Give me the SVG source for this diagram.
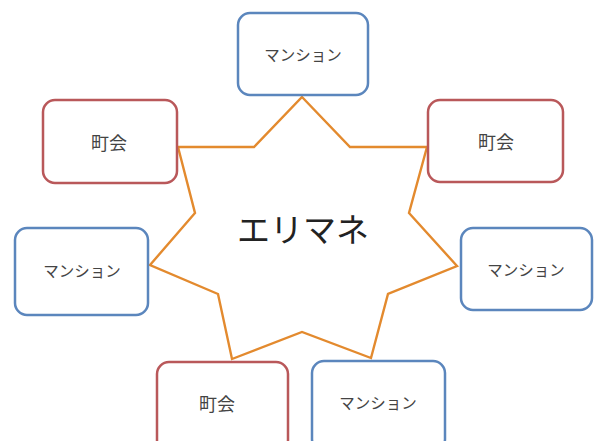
<svg xmlns="http://www.w3.org/2000/svg" width="594" height="441" viewBox="0 0 594 441">
<style>
.box{fill:#fff;stroke-width:2.5}
.red{stroke:#b9585a}
.blue{stroke:#5b86bd}
.lbl{font-family:"Noto Sans CJK JP",sans-serif;font-size:15.5px;fill:#444;text-anchor:middle;dominant-baseline:central}
.town{font-size:18px}
.star{fill:#fff;stroke:#e38a2e;stroke-width:2.4;stroke-linejoin:miter}
.title{font-family:"Noto Sans CJK JP",sans-serif;font-size:33px;fill:#222;text-anchor:middle;dominant-baseline:central}
</style>
<rect width="594" height="441" fill="#fff"/>
<g id="connectors">
<polygon class="star" points="302,97 350,147 427,147 409,213 457,266 388,294 371,358 302,332 232,359 218,294 150,265 195,213 178,147 254,147"/>
</g>
<g id="center"><text class="title" x="303" y="228">エリマネ</text></g>
<g id="n-top"><rect class="box blue" x="238" y="13" width="130" height="82" rx="12"/><text class="lbl" x="303" y="54">マンション</text></g>
<g id="n-left-town"><rect class="box red" x="43" y="100" width="134" height="83" rx="12"/><text class="lbl town" x="109" y="142">町会</text></g>
<g id="n-right-town"><rect class="box red" x="428" y="100" width="135" height="82" rx="12"/><text class="lbl town" x="496" y="141">町会</text></g>
<g id="n-left-mansion"><rect class="box blue" x="15" y="228" width="133" height="87" rx="12"/><text class="lbl" x="82" y="270">マンション</text></g>
<g id="n-right-mansion"><rect class="box blue" x="461" y="228" width="131" height="82" rx="12"/><text class="lbl" x="526" y="269">マンション</text></g>
<g id="n-bottom-town"><rect class="box red" x="157" y="362" width="131" height="90" rx="12"/><text class="lbl town" x="217" y="403">町会</text></g>
<g id="n-bottom-mansion"><rect class="box blue" x="312" y="361" width="133" height="90" rx="12"/><text class="lbl" x="378" y="402">マンション</text></g>
</svg>
